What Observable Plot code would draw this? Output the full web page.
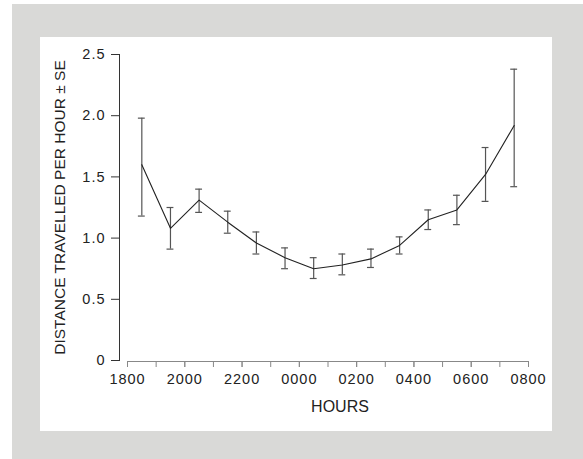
<!DOCTYPE html>
<html>
<head>
<meta charset="utf-8">
<script src="https://cdn.jsdelivr.net/npm/d3@7"></script>
<script src="https://cdn.jsdelivr.net/npm/@observablehq/plot@0.6"></script>
<style>
  html, body { margin: 0; padding: 0; background: #ffffff; width: 583px; height: 459px; overflow: hidden; }
  #outer { position: absolute; left: 12px; top: 4px; right: 0; bottom: 0; background: #d9d9d7; }
  #panel { position: absolute; left: 40px; top: 37px; width: 512px; height: 394px; background: #ffffff; }
  g[aria-label="x-axis tick label"] text, g[aria-label="y-axis tick label"] text { letter-spacing: 1px; font-size: 14.5px; }
</style>
</head>
<body>
<div id="outer"></div>
<div id="panel"></div>
<script>
// Hours since 18:00 (midpoint of each hourly interval)
const hoursSince1800 = [0.5, 1.5, 2.5, 3.5, 4.5, 5.5, 6.5, 7.5, 8.5, 9.5, 10.5, 11.5, 12.5, 13.5];
const meanDistance   = [1.60, 1.08, 1.31, 1.13, 0.96, 0.84, 0.75, 0.78, 0.83, 0.94, 1.15, 1.23, 1.52, 1.92];
const upperSE        = [1.98, 1.25, 1.40, 1.22, 1.05, 0.92, 0.84, 0.87, 0.91, 1.01, 1.23, 1.35, 1.74, 2.38];
const lowerSE        = [1.18, 0.91, 1.21, 1.04, 0.87, 0.75, 0.67, 0.70, 0.76, 0.87, 1.07, 1.11, 1.30, 1.42];

const hourTicks   = [0, 1, 2, 3, 4, 5, 6, 7, 8, 9, 10, 11, 12, 13, 14];
const labelHours  = [0, 2, 4, 6, 8, 10, 12, 14];
const xTickLabels = ["1800", "2000", "2200", "0000", "0200", "0400", "0600", "0800"];
const yTicks      = [0, 0.5, 1.0, 1.5, 2.0, 2.5];
const yTickLabels = ["0", "0.5", "1.0", "1.5", "2.0", "2.5"];
const xTitle = "HOURS";
const yTitle = "DISTANCE TRAVELLED PER HOUR \u00b1 SE";

const data = hoursSince1800.map((h, i) => ({h, m: meanDistance[i], hi: upperSE[i], lo: lowerSE[i]}));
const capHalf = 0.12;

const chart = Plot.plot({
  width: 512,
  height: 394,
  marginLeft: 79,
  marginRight: 24,
  marginTop: 17,
  marginBottom: 71,
  style: {fontFamily: "'Liberation Sans', Arial, sans-serif", fontSize: "14px", color: "#222", background: "transparent"},
  x: {domain: [0, 14], insetLeft: 8},
  y: {domain: [0, 2.5]},
  marks: [
    Plot.frame({anchor: "left", stroke: "#333"}),
    Plot.ruleY([0], {x1: hourTicks[0], x2: hourTicks[hourTicks.length - 1], stroke: "#888", dy: 1}),
    Plot.axisY(yTicks, {anchor: "left", tickSize: 8, tickPadding: 6, stroke: "#333", fill: "#222",
      tickFormat: d => yTickLabels[yTicks.indexOf(d)], label: null}),
    Plot.axisX(hourTicks, {anchor: "bottom", tickSize: 6, stroke: "#888", tickFormat: () => "", label: null, dy: 1}),
    Plot.axisX(labelHours, {anchor: "bottom", tickSize: 6, tickPadding: 6, stroke: "#888", fill: "#222",
      tickFormat: d => xTickLabels[labelHours.indexOf(d)], label: null, dy: 1}),
    Plot.text([xTitle], {frameAnchor: "bottom", dx: 16, dy: 46, fontSize: 16, fill: "#222", lineAnchor: "middle", textAnchor: "middle"}),
    Plot.text([yTitle], {frameAnchor: "left", dx: -59, rotate: -90, fontSize: 15.5, fill: "#222", lineAnchor: "middle", textAnchor: "middle"}),
    Plot.ruleX(data, {x: "h", y1: "lo", y2: "hi", stroke: "#555", strokeWidth: 1.2}),
    Plot.ruleY(data, {y: "hi", x1: d => d.h - capHalf, x2: d => d.h + capHalf, stroke: "#555", strokeWidth: 1.2}),
    Plot.ruleY(data, {y: "lo", x1: d => d.h - capHalf, x2: d => d.h + capHalf, stroke: "#555", strokeWidth: 1.2}),
    Plot.line(data, {x: "h", y: "m", stroke: "#222", strokeWidth: 1.1})
  ]
});
document.getElementById("panel").appendChild(chart);
</script>
</body>
</html>
